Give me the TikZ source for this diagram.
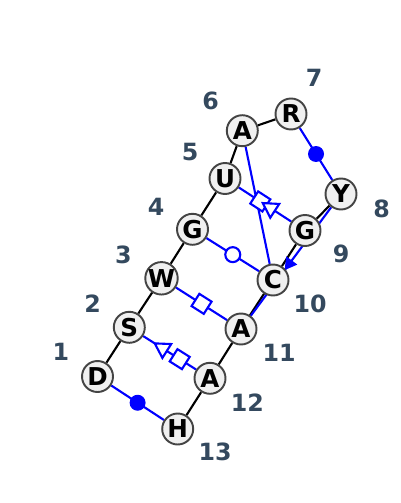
\documentclass[tikz,border=0pt]{standalone}
\usepackage{fontspec}
\setmainfont{DejaVu Sans}
\usetikzlibrary{shapes.geometric,backgrounds}
\definecolor{numtext}{RGB}{52,73,94}
\definecolor{basefill}{RGB}{240,240,240}
\definecolor{baseedge}{RGB}{68,68,68}
\tikzset{
  base/.style={circle,draw=baseedge,fill=basefill,line width=1.1pt,minimum size=0.62cm,inner sep=0pt,font=\bfseries\fontsize{14}{14}\selectfont},
  idx/.style={text=numtext,inner sep=0pt,font=\bfseries\fontsize{13.5}{14}\selectfont},
  backbone/.style={draw=black,line width=1.2pt},
  pair/.style={draw=blue,line width=1.2pt},
  fcirc/.style={circle,fill=blue,minimum size=0.32cm,inner sep=0pt},
  ocirc/.style={circle,draw=blue,fill=white,line width=1.2pt,minimum size=0.3cm,inner sep=0pt},
  osq/.style={rectangle,sloped,draw=blue,fill=white,line width=1.2pt,minimum size=0.29cm,inner sep=0pt},
  otri/.style={regular polygon,regular polygon sides=3,shape border rotate=90,sloped,draw=blue,fill=white,line width=1.2pt,minimum size=0.38cm,inner sep=0pt},
  ftri/.style={regular polygon,regular polygon sides=3,shape border rotate=90,sloped,fill=blue,minimum size=0.32cm,inner sep=0pt},
}
\begin{document}
\begin{tikzpicture}[x=0.02cm,y=-0.02cm]
  \useasboundingbox (0,0) rectangle (400,503);
  % nucleotides
  \node [base] (D1) at (97.5,376.5) {D};
  \node [base] (S2) at (129.3,327.3) {S};
  \node [base] (W3) at (161.5,278.3) {W};
  \node [base] (G4) at (192.5,229.3) {G};
  \node [base] (U5) at (225,178.5) {U};
  \node [base] (A6) at (242.3,130.7) {A};
  \node [base] (R7) at (291,114) {R};
  \node [base] (Y8) at (341,194) {Y};
  \node [base] (G9) at (305,230.5) {G};
  \node [base] (C10) at (273,280) {C};
  \node [base] (A11) at (241,329) {A};
  \node [base] (A12) at (210,378.3) {A};
  \node [base] (H13) at (177.7,429) {H};
  % position numbers
  \node [idx] (n1) at (61,352) {1};
  \node [idx] (n2) at (92.5,304) {2};
  \node [idx] (n3) at (123.5,255) {3};
  \node [idx] (n4) at (156,206.5) {4};
  \node [idx] (n5) at (190,152) {5};
  \node [idx] (n6) at (210.5,100.7) {6};
  \node [idx] (n7) at (314,77.5) {7};
  \node [idx] (n8) at (381.5,209) {8};
  \node [idx] (n9) at (341,254) {9};
  \node [idx] (n10) at (310,304) {10};
  \node [idx] (n11) at (279,353) {11};
  \node [idx] (n12) at (247.3,402.5) {12};
  \node [idx] (n13) at (215,451.7) {13};
  \begin{scope}[on background layer]
    % backbone
    \draw [backbone] (D1) -- (S2) -- (W3) -- (G4) -- (U5) -- (A6) -- (R7);
    \draw [backbone] (Y8) -- (G9) -- (C10) -- (A11) -- (A12) -- (H13);
    % base pairs
    \draw [pair] (A6) -- (C10);
    \draw [pair] (R7) -- node [fcirc] {} (Y8);
    \draw [pair] (D1) -- node [fcirc] {} (H13);
    \draw [pair] (G4) -- node [ocirc] {} (C10);
    \draw [pair] (W3) -- node [osq] {} (A11);
    \draw [pair] (U5) -- node [osq,pos=0.41] {} node [otri,pos=0.61] {} (G9);
    \draw [pair] (S2) -- node [otri,pos=0.37] {} node [osq,pos=0.69] {} (A12);
    \draw [pair] (A11) -- node [ftri,pos=0.48] {} (Y8);
  \end{scope}
\end{tikzpicture}
\end{document}
